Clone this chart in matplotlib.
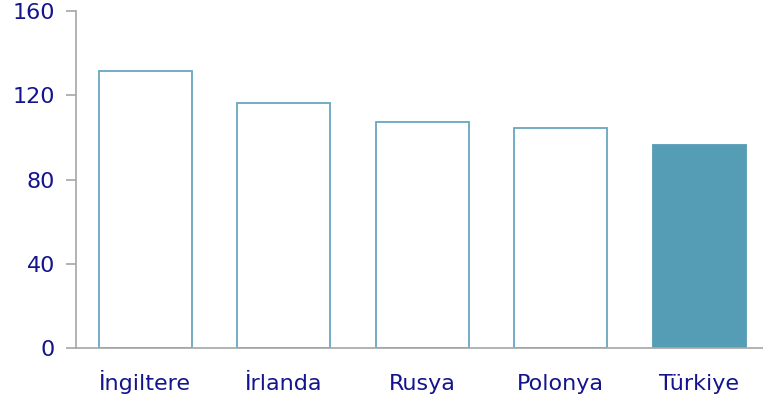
import matplotlib.pyplot as plt

countries = ['İngiltere', 'İrlanda', 'Rusya', 'Polonya', 'Türkiye']
values = [131.5, 116.3, 107.3, 104.5, 96.4]
yticks = [0, 40, 80, 120, 160]

text_col = '#14148c'
axis_col = '#a6a6a6'

fig = plt.figure(figsize=(7.63, 3.99), dpi=100)
ax = fig.add_axes([76 / 763, 51 / 399, 1 - 76 / 763, 337 / 399])

x = range(len(countries))
face = ['white'] * 4 + ['#559cb5']
edge = ['#6aa6bf'] * 4 + ['#559cb5']
ax.bar(x, values, width=0.67, color=face, edgecolor=edge, linewidth=1.3, zorder=2)

ax.set_xlim(-0.5, 4.46)
ax.set_ylim(0, 160)
ax.set_yticks(yticks)
ax.set_xticks(list(x))
ax.set_xticklabels(countries, va='baseline')

for s in ['top', 'right']:
    ax.spines[s].set_visible(False)
for s in ['left', 'bottom']:
    ax.spines[s].set_color(axis_col)
    ax.spines[s].set_linewidth(1.2)

ax.tick_params(axis='y', colors=axis_col, labelcolor=text_col, labelsize=16,
               length=7, width=1.2, pad=8)
ax.tick_params(axis='x', length=0, labelcolor=text_col, labelsize=16, pad=30)

fig.savefig('out.png', dpi=100)
